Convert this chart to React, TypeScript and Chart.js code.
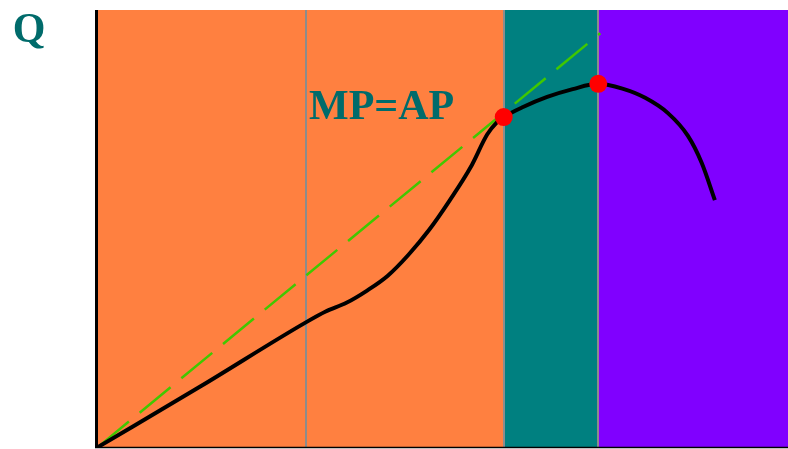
import React, { useEffect, useRef } from "react";
import { Chart, registerables } from "chart.js";

Chart.register(...registerables);

// Total product curve (labour input L, output Q), arbitrary units 0..10
const tpL = [0, 1.5, 3.0, 3.3, 3.6, 3.9, 4.2, 4.5, 4.8, 5.1, 5.4, 5.64, 5.78, 5.88, 6.16, 6.51, 6.88, 7.25, 7.6, 7.93, 8.26, 8.55, 8.75, 8.94];
const tpQ = [0, 1.4, 2.84, 3.1, 3.3, 3.58, 3.92, 4.4, 4.97, 5.65, 6.4, 7.15, 7.43, 7.55, 7.78, 8.01, 8.19, 8.31, 8.2, 7.99, 7.64, 7.12, 6.5, 5.65];

// Ray from origin (dashed green)
const rayL = [0, 7.28];
const rayQ = [0, 9.47];

// Marked points (MP=AP and max TP)
const markL = [5.88, 7.25];
const markQ = [7.55, 8.31];

// Stage boundaries
const stageBounds = [0, 5.88, 7.25, 10];
const stageColors = ["#FF8040", "#008080", "#8000FF"];
const gridLinesL = [3.01, 5.88, 7.25];

const axisLabel = "Q";
const noteLabel = "MP=AP";

export default function App() {
  const ref = useRef<HTMLCanvasElement | null>(null);

  useEffect(() => {
    const canvas = ref.current;
    if (!canvas) return;
    const bgPlugin = {
      id: "stages",
      beforeDatasetsDraw(chart: any) {
        const { ctx, chartArea, scales } = chart;
        const xs = scales.x;
        ctx.save();
        for (let i = 0; i < stageColors.length; i++) {
          const x0 = xs.getPixelForValue(stageBounds[i]);
          const x1 = xs.getPixelForValue(stageBounds[i + 1]);
          ctx.fillStyle = stageColors[i];
          ctx.fillRect(x0, chartArea.top, x1 - x0, chartArea.bottom - chartArea.top);
        }
        ctx.strokeStyle = "#8c8c8c";
        ctx.lineWidth = 2;
        for (const g of gridLinesL) {
          const x = Math.round(xs.getPixelForValue(g));
          ctx.beginPath();
          ctx.moveTo(x, chartArea.top);
          ctx.lineTo(x, chartArea.bottom);
          ctx.stroke();
        }
        // axes
        ctx.strokeStyle = "#000";
        ctx.lineWidth = 3;
        ctx.beginPath();
        ctx.moveTo(chartArea.left - 1.5, chartArea.top);
        ctx.lineTo(chartArea.left - 1.5, chartArea.bottom + 1);
        ctx.stroke();
        ctx.lineWidth = 1.5;
        ctx.beginPath();
        ctx.moveTo(chartArea.left - 3, chartArea.bottom + 0.5);
        ctx.lineTo(chartArea.right, chartArea.bottom + 0.5);
        ctx.stroke();
        ctx.restore();
      },
      afterDraw(chart: any) {
        const { ctx } = chart;
        ctx.save();
        ctx.fillStyle = "#006B6B";
        ctx.textBaseline = "alphabetic";
        ctx.font = "bold 42px 'Liberation Serif', 'Times New Roman', serif";
        ctx.textAlign = "center";
        ctx.fillText(axisLabel, 29, 42);
        ctx.font = "bold 42px 'Liberation Serif', 'Times New Roman', serif";
        ctx.textAlign = "left";
        ctx.fillText(noteLabel, 309, 119);
        ctx.restore();
      },
    };

    const chart = new Chart(canvas, {
      type: "scatter",
      data: {
        datasets: [
          {
            type: "line",
            data: rayL.map((l, i) => ({ x: l, y: rayQ[i] })),
            borderColor: "#40C800",
            borderWidth: 2.5,
            borderDash: [40, 14],
            pointRadius: 0,
            fill: false,
            order: 3,
          },
          {
            type: "line",
            data: tpL.map((l, i) => ({ x: l, y: tpQ[i] })),
            borderColor: "#000000",
            borderWidth: 4,
            pointRadius: 0,
            cubicInterpolationMode: "monotone",
            fill: false,
            order: 2,
          },
          {
            type: "scatter",
            data: markL.map((l, i) => ({ x: l, y: markQ[i] })),
            backgroundColor: "#FF0000",
            borderColor: "#FF0000",
            pointRadius: 9,
            borderWidth: 0,
            order: 1,
          },
        ],
      },
      options: {
        responsive: false,
        animation: false,
        layout: { autoPadding: false, padding: { left: 98, right: 0, top: 10, bottom: 2 } },
        plugins: { legend: { display: false }, tooltip: { enabled: false } },
        scales: {
          x: { type: "linear", min: 0, max: 10, display: false },
          y: { type: "linear", min: 0, max: 10, display: false },
        },
      },
      plugins: [bgPlugin],
    } as any);
    return () => chart.destroy();
  }, []);

  return (
    <div style={{ position: "fixed", left: 0, top: 0, width: 788, height: 449, background: "#fff" }}>
      <canvas ref={ref} width={788} height={449} style={{ display: "block" }} />
    </div>
  );
}
